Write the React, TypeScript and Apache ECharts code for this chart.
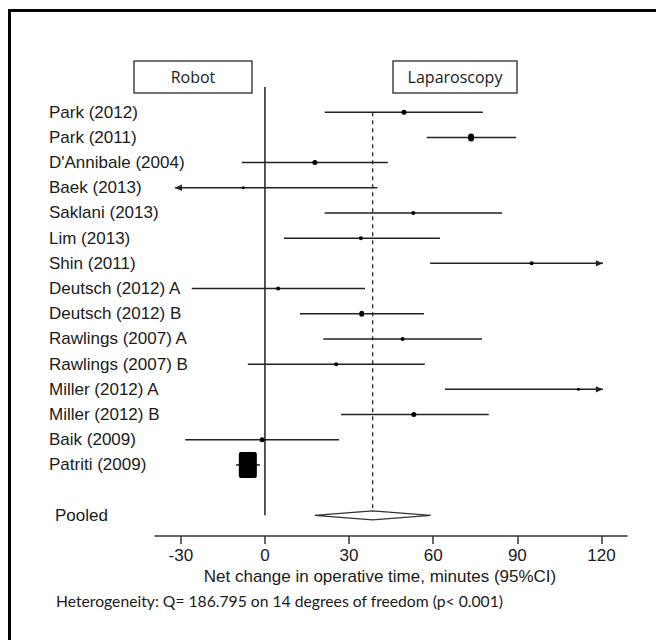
import React, { useEffect, useRef } from "react";
import * as echarts from "echarts";

const studies = [
  "Park (2012)",
  "Park (2011)",
  "D'Annibale (2004)",
  "Baek (2013)",
  "Saklani (2013)",
  "Lim (2013)",
  "Shin (2011)",
  "Deutsch (2012) A",
  "Deutsch (2012) B",
  "Rawlings (2007) A",
  "Rawlings (2007) B",
  "Miller (2012) A",
  "Miller (2012) B",
  "Baik (2009)",
  "Patriti (2009)",
];
const estimates = [49.6, 73.5, 17.8, -7.7, 52.9, 34.2, 95.1, 4.7, 34.5, 49.1, 25.4, 111.8, 53.1, -1.0, -6.1];
const lower = [21.3, 57.7, -8.2, -32.1, 21.3, 6.8, 58.9, -26.1, 12.5, 20.8, -6.1, 64.2, 27.1, -28.4, -10.3];
const upper = [77.7, 89.5, 43.8, 40.1, 84.6, 62.4, 120.5, 35.7, 56.7, 77.4, 57.0, 120.5, 79.8, 26.4, -1.8];
const arrowLeft = [0, 0, 0, 1, 0, 0, 0, 0, 0, 0, 0, 0, 0, 0, 0];
const arrowRight = [0, 0, 0, 0, 0, 0, 1, 0, 0, 0, 0, 1, 0, 0, 0];
// relative weight boxes (px)
const boxW = [5, 6, 5, 3, 4, 4, 4, 4, 5, 4, 4, 3, 5, 5, 18];
const boxH = [5, 8, 5, 3, 4, 4, 4, 4, 6, 4, 4, 3, 5, 5, 26];

const pooledLabel = "Pooled";
const pooledEst = 38.4;
const pooledLo = 17.8;
const pooledHi = 59.1;

const xTicks = [-30, 0, 30, 60, 90, 120];
const xTitle = "Net change in operative time, minutes (95%CI)";
const heterogeneity = "Heterogeneity: Q= 186.795 on 14 degrees of freedom (p< 0.001)";
const leftGroup = "Robot";
const rightGroup = "Laparoscopy";

const pooledRow = studies.length + 1;
const rowValues = studies.map((_, i) => i);

export default function App() {
  const ref = useRef<HTMLDivElement>(null);
  useEffect(() => {
    if (!ref.current) return;
    const chart = echarts.init(ref.current, null, { renderer: "svg" });
    const ink = "#222";
    const studyData = studies.map((_, i) => [
      lower[i],
      upper[i],
      i,
      estimates[i],
      boxW[i],
      boxH[i],
      arrowLeft[i],
      arrowRight[i],
    ]);
    const option: any = {
      animation: false,
      backgroundColor: "#fff",
      grid: { left: 155, right: 29, top: 87, bottom: 104, containLabel: false },
      xAxis: {
        type: "value",
        min: -39.2,
        max: 129.1,
        position: "bottom",
        splitLine: { show: false },
        axisLine: { show: true, onZero: false, lineStyle: { color: "#333", width: 1.5 } },
        axisTick: {
          show: true,
          customValues: xTicks,
          length: 8,
          lineStyle: { color: "#333", width: 1.5 },
        },
        axisLabel: {
          customValues: xTicks,
          fontFamily: "Liberation Sans, Arial",
          fontSize: 17,
          color: "#1a1a1a",
          margin: 11,
        },
      },
      yAxis: {
        type: "value",
        min: -1,
        max: 16.82,
        inverse: true,
        splitLine: { show: false },
        axisLine: { show: false, onZero: false },
        axisTick: { show: false },
        axisLabel: {
          customValues: [...rowValues, pooledRow],
          align: "left",
          margin: 106,
          fontFamily: "Liberation Sans, Arial",
          fontSize: 17,
          color: "#1a1a1a",
          formatter: (v: number) => (v === pooledRow ? "{p|" + pooledLabel + "}" : studies[v] ?? ""),
          rich: {
            p: {
              fontFamily: "Liberation Sans, Arial",
              fontSize: 17,
              color: "#1a1a1a",
              padding: [0, 0, 0, 6],
            },
          },
        },
      },
      series: [
        {
          type: "custom",
          name: "refs",
          clip: false,
          data: [
            [0, -1, pooledRow, 0],
            [pooledEst, 0, pooledRow, 1],
          ],
          encode: { x: 0, y: [1, 2] },
          renderItem: (params: any, api: any) => {
            const x = api.value(0);
            const a = api.coord([x, api.value(1)]);
            const b = api.coord([x, api.value(2)]);
            const dashed = api.value(3) === 1;
            return {
              type: "line",
              shape: { x1: a[0], y1: a[1], x2: b[0], y2: b[1] },
              style: {
                stroke: dashed ? "#333" : "#444",
                lineWidth: dashed ? 1.4 : 1.8,
                lineDash: dashed ? [4, 4] : null,
              },
            };
          },
        },
        {
          type: "custom",
          name: "studies",
          clip: false,
          data: studyData,
          encode: { x: [0, 1, 3], y: 2 },
          renderItem: (params: any, api: any) => {
            const lo = api.value(0);
            const hi = api.value(1);
            const row = api.value(2);
            const est = api.value(3);
            const w = api.value(4);
            const h = api.value(5);
            const al = api.value(6);
            const ar = api.value(7);
            const p1 = api.coord([lo, row]);
            const p2 = api.coord([hi, row]);
            const pe = api.coord([est, row]);
            const children: any[] = [
              {
                type: "line",
                shape: { x1: p1[0], y1: p1[1], x2: p2[0], y2: p2[1] },
                style: { stroke: ink, lineWidth: 1.5 },
              },
            ];
            if (al) {
              children.push({
                type: "polygon",
                shape: {
                  points: [
                    [p1[0], p1[1]],
                    [p1[0] + 7, p1[1] - 3.2],
                    [p1[0] + 7, p1[1] + 3.2],
                  ],
                },
                style: { fill: ink },
              });
            }
            if (ar) {
              children.push({
                type: "polygon",
                shape: {
                  points: [
                    [p2[0], p2[1]],
                    [p2[0] - 7, p2[1] - 3.2],
                    [p2[0] - 7, p2[1] + 3.2],
                  ],
                },
                style: { fill: ink },
              });
            }
            children.push({
              type: "rect",
              shape: {
                x: pe[0] - w / 2,
                y: pe[1] - h / 2,
                width: w,
                height: h,
                r: w >= 10 ? 2 : Math.min(w, h) / 2,
              },
              style: { fill: "#000" },
            });
            return { type: "group", children };
          },
        },
        {
          type: "custom",
          name: "pooled",
          clip: false,
          data: [[pooledLo, pooledEst, pooledHi, pooledRow]],
          encode: { x: [0, 1, 2], y: 3 },
          renderItem: (params: any, api: any) => {
            const row = api.value(3);
            const a = api.coord([api.value(0), row]);
            const m = api.coord([api.value(1), row]);
            const c = api.coord([api.value(2), row]);
            return {
              type: "polygon",
              shape: {
                points: [
                  [a[0], a[1]],
                  [m[0], m[1] - 4.5],
                  [c[0], c[1]],
                  [m[0], m[1] + 4.5],
                ],
              },
              style: { fill: "#fff", stroke: "#333", lineWidth: 1.3 },
            };
          },
        },
      ],
      graphic: [
        {
          type: "line",
          shape: { x1: 8, y1: 10.5, x2: 656, y2: 10.5 },
          style: { stroke: "#000", lineWidth: 3 },
        },
        {
          type: "line",
          shape: { x1: 9.5, y1: 9, x2: 9.5, y2: 640 },
          style: { stroke: "#000", lineWidth: 3 },
        },
        {
          type: "rect",
          shape: { x: 134, y: 61, width: 118, height: 32 },
          style: { fill: "#fff", stroke: "#444", lineWidth: 1.5 },
        },
        {
          type: "rect",
          shape: { x: 393, y: 61, width: 124, height: 32 },
          style: { fill: "#fff", stroke: "#444", lineWidth: 1.5 },
        },
        {
          type: "text",
          x: 193,
          y: 77,
          style: {
            text: leftGroup,
            fontFamily: "Open Sans",
            fontSize: 16,
            fill: "#1a1a1a",
            align: "center",
            verticalAlign: "middle",
          },
        },
        {
          type: "text",
          x: 455,
          y: 77,
          style: {
            text: rightGroup,
            fontFamily: "Open Sans",
            fontSize: 16,
            fill: "#1a1a1a",
            align: "center",
            verticalAlign: "middle",
          },
        },
        {
          type: "text",
          x: 380,
          y: 576,
          style: {
            text: xTitle,
            fontFamily: "Liberation Sans, Arial",
            fontSize: 17,
            fill: "#1a1a1a",
            align: "center",
            verticalAlign: "middle",
          },
        },
        {
          type: "text",
          x: 56,
          y: 601,
          style: {
            text: heterogeneity,
            fontFamily: "Lato",
            fontSize: 15.7,
            fill: "#1a1a1a",
            align: "left",
            verticalAlign: "middle",
          },
        },
      ],
    };
    chart.setOption(option);
    return () => chart.dispose();
  }, []);
  return (
    <div
      ref={ref}
      style={{ position: "fixed", left: 0, top: 0, width: 656, height: 640, background: "#fff" }}
    />
  );
}
